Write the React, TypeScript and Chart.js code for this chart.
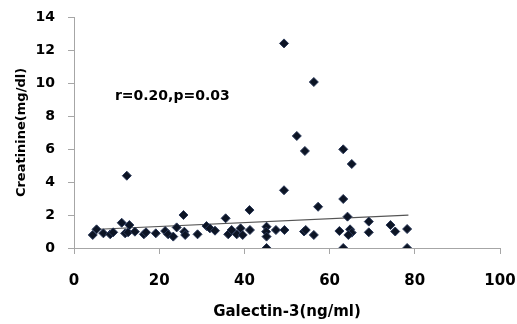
import React, { useEffect, useRef } from "react";
import { Chart, registerables } from "chart.js";

Chart.register(...registerables);

// Galectin-3 (ng/ml) values
const galectinValues = [
  4.4, 5.3, 6.9, 8.5, 9.2, 11.2, 12.4, 12.0, 12.7, 13.0,
  14.3, 16.4, 16.9, 19.2, 21.4, 22.1, 23.3, 24.1, 25.7, 25.9,
  26.1, 29.0, 31.1, 31.9, 33.1, 35.6, 36.2, 37.0, 38.2, 39.1,
  39.6, 41.2, 41.3, 45.2, 45.1, 45.2, 45.2, 47.4, 49.3, 49.3,
  49.4, 52.3, 54.2, 54.0, 54.4, 56.3, 56.3, 57.3, 62.3, 63.2,
  63.2, 63.2, 64.2, 64.8, 65.2, 64.4, 65.2, 69.2, 69.2, 74.3,
  75.4, 78.2, 78.2,
];

// Creatinine (mg/dl) values
const creatinineValues = [
  0.79, 1.13, 0.89, 0.83, 0.95, 1.53, 4.38, 0.89, 0.95, 1.39,
  0.99, 0.83, 0.95, 0.89, 1.03, 0.83, 0.69, 1.25, 2.0, 0.99,
  0.79, 0.83, 1.33, 1.19, 1.05, 1.8, 0.83, 1.09, 0.83, 1.19,
  0.79, 2.3, 1.09, 1.29, 0.99, 0.69, 0.0, 1.09, 12.4, 3.5,
  1.09, 6.79, 5.88, 1.0, 1.09, 0.79, 10.06, 2.5, 1.03, 5.98,
  2.97, 0.0, 1.9, 1.13, 0.93, 0.79, 5.09, 1.6, 0.95, 1.39,
  1.0, 1.15, 0.0,
];

// Trend line end points
const trendX = [4.5, 78.5];
const trendY = [1.12, 1.99];

const xTicks = [0, 20, 40, 60, 80, 100];
const yTicks = [0, 2, 4, 6, 8, 10, 12, 14];

const annotationText = "r=0.20,p=0.03";
const annotationAt = { x: 9.6, y: 9.2 };

const FONT = "DejaVu Sans";

export default function App() {
  const canvasRef = useRef<HTMLCanvasElement | null>(null);

  useEffect(() => {
    if (!canvasRef.current) return;

    const annotationPlugin = {
      id: "annotationText",
      afterDatasetsDraw(chart: any) {
        const { ctx, scales } = chart;
        const px = scales.x.getPixelForValue(annotationAt.x);
        const py = scales.y.getPixelForValue(annotationAt.y);
        ctx.save();
        ctx.font = `bold 14px "${FONT}"`;
        ctx.fillStyle = "#000000";
        ctx.textAlign = "left";
        ctx.textBaseline = "middle";
        ctx.fillText(annotationText, px, py);
        ctx.restore();
      },
    };

    const points = galectinValues.map((x, i) => ({ x, y: creatinineValues[i] }));
    const trend = trendX.map((x, i) => ({ x, y: trendY[i] }));

    const chart = new Chart(canvasRef.current, {
      type: "scatter",
      data: {
        datasets: [
          {
            label: "trend",
            data: trend,
            showLine: true,
            borderColor: "#555555",
            borderWidth: 1.2,
            pointRadius: 0,
            fill: false,
            order: 2,
          } as any,
          {
            label: "points",
            data: points,
            pointStyle: "rectRot",
            pointRadius: 4.5,
            pointBorderWidth: 1,
            backgroundColor: "#0c1424",
            borderColor: "#2a3858",
            order: 1,
          } as any,
        ],
      },
      options: {
        animation: false,
        responsive: true,
        maintainAspectRatio: false,
        layout: { padding: { top: 17, right: 17, left: 0, bottom: 0 } },
        plugins: {
          legend: { display: false },
          tooltip: { enabled: false },
        },
        scales: {
          x: {
            type: "linear",
            min: 0,
            max: 100,
            afterBuildTicks: (scale: any) => {
              scale.ticks = xTicks.map((v) => ({ value: v }));
            },
            afterFit: (scale: any) => {
              scale.height = 76;
              scale.paddingLeft = 0;
              scale.paddingRight = 0;
            },
            grid: {
              display: true,
              drawOnChartArea: false,
              drawTicks: true,
              tickLength: 6,
              color: "#a6a6a6",
            },
            border: { display: true, color: "#a6a6a6", width: 1 },
            ticks: {
              padding: 18,
              color: "#000000",
              font: { family: FONT, size: 15, weight: "bold" },
              maxRotation: 0,
            },
            title: {
              display: true,
              text: "Galectin-3(ng/ml)",
              color: "#000000",
              font: { family: FONT, size: 15, weight: "bold" },
              padding: { top: 0, bottom: 3 },
            },
          },
          y: {
            type: "linear",
            min: 0,
            max: 14,
            afterBuildTicks: (scale: any) => {
              scale.ticks = yTicks.map((v) => ({ value: v }));
            },
            afterFit: (scale: any) => {
              scale.width = 74;
              scale.paddingTop = 0;
              scale.paddingBottom = 0;
            },
            grid: {
              display: true,
              drawOnChartArea: false,
              drawTicks: true,
              tickLength: 6,
              color: "#a6a6a6",
            },
            border: { display: true, color: "#a6a6a6", width: 1 },
            ticks: {
              padding: 13,
              color: "#000000",
              font: { family: FONT, size: 14, weight: "bold" },
            },
            title: {
              display: true,
              text: "Creatinine(mg/dl)",
              color: "#000000",
              font: { family: FONT, size: 13, weight: "bold" },
              padding: { top: 14, bottom: 0 },
            },
          },
        },
      },
      plugins: [annotationPlugin],
    });

    return () => chart.destroy();
  }, []);

  return (
    <div style={{ position: "absolute", left: 0, top: 0, width: 517, height: 324, background: "#ffffff" }}>
      <canvas ref={canvasRef} />
    </div>
  );
}
